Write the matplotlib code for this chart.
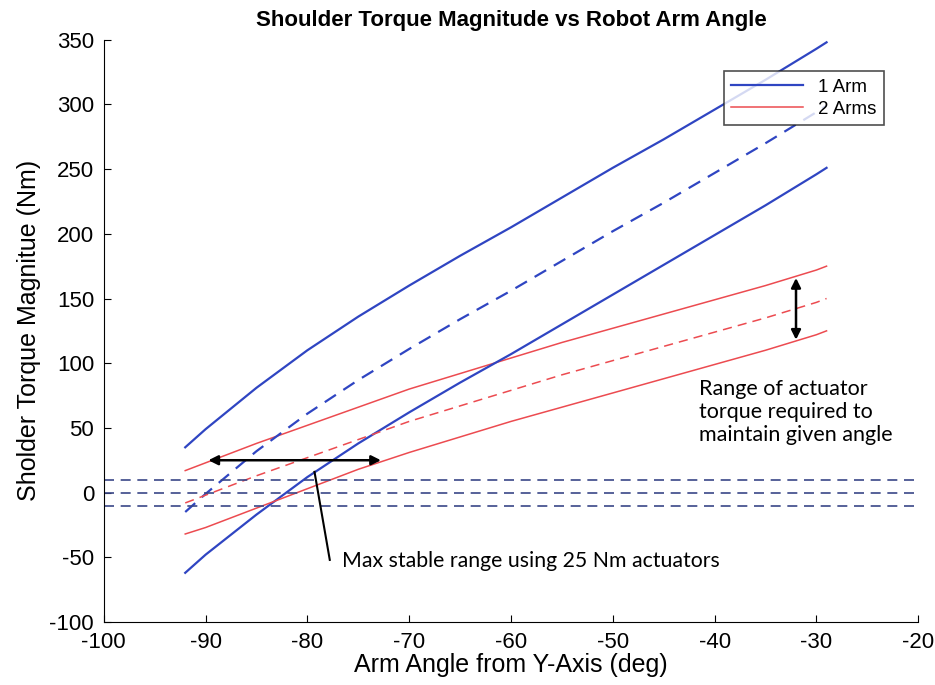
import matplotlib.pyplot as plt

plt.rcParams['font.family'] = ['Liberation Sans', 'DejaVu Sans']
plt.rcParams['axes.unicode_minus'] = False

# arm angle samples (deg)
angle = [-92, -90, -85, -80, -75, -70, -65, -60, -55, -50, -45, -40, -35, -30, -29]

# 1 arm: upper / nominal / lower torque (Nm)
one_upper = [35, 49, 81, 110, 136, 160, 183, 205, 228, 251, 273, 296, 319, 343, 348]
one_mid = [-15, -1, 32, 61, 87, 111, 134, 156, 179, 202, 224, 247, 270, 294, 299]
one_lower = [-62, -48, -17, 12, 38, 62, 85, 107, 130, 153, 176, 199, 222, 246, 251]

# 2 arms: upper / nominal / lower torque (Nm)
two_upper = [17, 23, 38, 52, 66, 80, 92, 104, 116, 127, 138, 149, 160, 172, 175]
two_mid = [-8, -2, 13, 27, 41, 55, 67, 79, 91, 102, 113, 124, 135, 147, 150]
two_lower = [-32, -27, -12, 3, 18, 31, 43, 55, 66, 77, 88, 99, 110, 122, 125]

# actuator limits
limits = [10, 0, -10]

blue = '#2f45c2'
red = '#ec4b50'
navy = '#3a4788'

fig = plt.figure(figsize=(9.35, 6.85), dpi=100)
ax = fig.add_axes([0.111, 0.092, 0.871, 0.85])

ax.plot(angle, one_upper, color=blue, lw=1.6, label='1 Arm')
ax.plot(angle, two_upper, color=red, lw=1.1, label='2 Arms')
ax.plot(angle, one_mid, color=blue, lw=1.6, ls=(0, (6, 4)))
ax.plot(angle, one_lower, color=blue, lw=1.6)
ax.plot(angle, two_mid, color=red, lw=1.1, ls=(0, (6, 4)))
ax.plot(angle, two_lower, color=red, lw=1.1)

for lim in limits:
    ax.axhline(lim, color=navy, lw=1.2, ls=(0, (6, 4)))

ax.set_xlim(-100, -20)
ax.set_ylim(-100, 350)
ax.set_xticks(range(-100, -19, 10))
ax.set_yticks(range(-100, 351, 50))
ax.tick_params(direction='in', length=5, labelsize=16, width=0.8)
ax.tick_params(axis='x', pad=7)
ax.tick_params(axis='y', pad=7)
ax.spines['top'].set_visible(False)
ax.spines['right'].set_visible(False)

ax.set_title('Shoulder Torque Magnitude vs Robot Arm Angle', fontsize=16, fontweight='bold', pad=10)
ax.set_xlabel('Arm Angle from Y-Axis (deg)', fontsize=18, labelpad=0)
ax.set_ylabel('Sholder Torque Magnitue (Nm)', fontsize=18, labelpad=6)

leg = ax.legend(loc='upper right', bbox_to_anchor=(0.969, 0.962), fontsize=13.5,
                fancybox=False, edgecolor='#222222', handlelength=3.8, borderpad=0.4,
                labelspacing=0.25)
leg.get_frame().set_linewidth(1.2)

# annotations
ax.annotate('', xy=(-90, 25), xytext=(-72.5, 25),
            arrowprops=dict(arrowstyle='<|-|>', color='black', lw=1.8, mutation_scale=14))
ax.annotate('', xy=(-32, 168), xytext=(-32, 116),
            arrowprops=dict(arrowstyle='<|-|>', color='black', lw=1.8, mutation_scale=14))
ax.plot([-79.3, -77.8], [16, -52], color='black', lw=1.5)
ax.text(-76.6, -53, 'Max stable range using 25 Nm actuators', fontsize=15.3,
        family=['Lato', 'DejaVu Sans'], va='center', ha='left')
ax.text(-41.5, 88, 'Range of actuator\ntorque required to\nmaintain given angle', fontsize=15.5,
        family=['Lato', 'DejaVu Sans'], va='top', ha='left', linespacing=1.2)

fig.savefig('out.png', dpi=100)
